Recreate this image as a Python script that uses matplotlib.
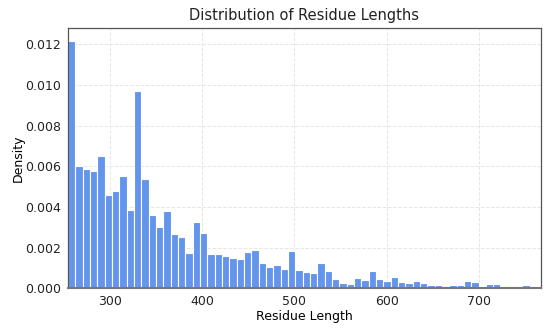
import matplotlib.pyplot as plt
import numpy as np

# histogram bin edges (residue length) and density per bin
bin_start = 255
bin_stop = 763
density = [0.01215, 0.00602, 0.00588, 0.00579, 0.00652, 0.00460, 0.00481, 0.00553,
           0.00386, 0.00972, 0.00540, 0.00360, 0.00302, 0.00379, 0.00266, 0.00251,
           0.00174, 0.00328, 0.00271, 0.00169, 0.00169, 0.00158, 0.00148, 0.00144,
           0.00177, 0.00189, 0.00123, 0.00105, 0.00115, 0.00095, 0.00182, 0.00089,
           0.00079, 0.00074, 0.00125, 0.00085, 0.00044, 0.00028, 0.00023, 0.00049,
           0.00039, 0.00087, 0.00046, 0.00036, 0.00058, 0.00030, 0.00025, 0.00036,
           0.00028, 0.00016, 0.00016, 0.00008, 0.00016, 0.00016, 0.00036, 0.00031,
           0.00011, 0.00023, 0.00020, 0.00006, 0.0, 0.0, 0.00016, 0.00002]
x_ticks = [300, 400, 500, 600, 700]
y_ticks = [0.000, 0.002, 0.004, 0.006, 0.008, 0.010, 0.012]

edges = np.linspace(bin_start, bin_stop, len(density) + 1)
widths = np.diff(edges)

fig = plt.figure(figsize=(5.55, 3.33), dpi=100)
ax = fig.add_axes([0.1225, 0.134, 0.852, 0.782])

ax.bar(edges[:-1], density, width=widths, align='edge',
       color='#6495ED', edgecolor='white', linewidth=0.8, zorder=2)

ax.set_xlim(255, 767)
ax.set_ylim(0, 0.0128)
ax.set_xticks(x_ticks)
ax.set_yticks(y_ticks)
ax.set_yticklabels([f"{v:.3f}" for v in y_ticks])
ax.tick_params(length=0, labelsize=9, pad=5, colors='#222222')

ax.grid(True, linestyle='--', color='#e6e6e6', linewidth=0.7, zorder=0)
ax.set_axisbelow(True)
for side in ['left', 'right', 'top']:
    ax.spines[side].set_color('#555555')
    ax.spines[side].set_linewidth(0.9)
ax.spines['bottom'].set_color('#777777')
ax.spines['bottom'].set_linewidth(1.5)

ax.set_title("Distribution of Residue Lengths", fontsize=10.5, color='#222222')
ax.set_xlabel("Residue Length", fontsize=9, labelpad=1)
ax.set_ylabel("Density", fontsize=9, labelpad=0)

fig.savefig("out.png", dpi=100)
